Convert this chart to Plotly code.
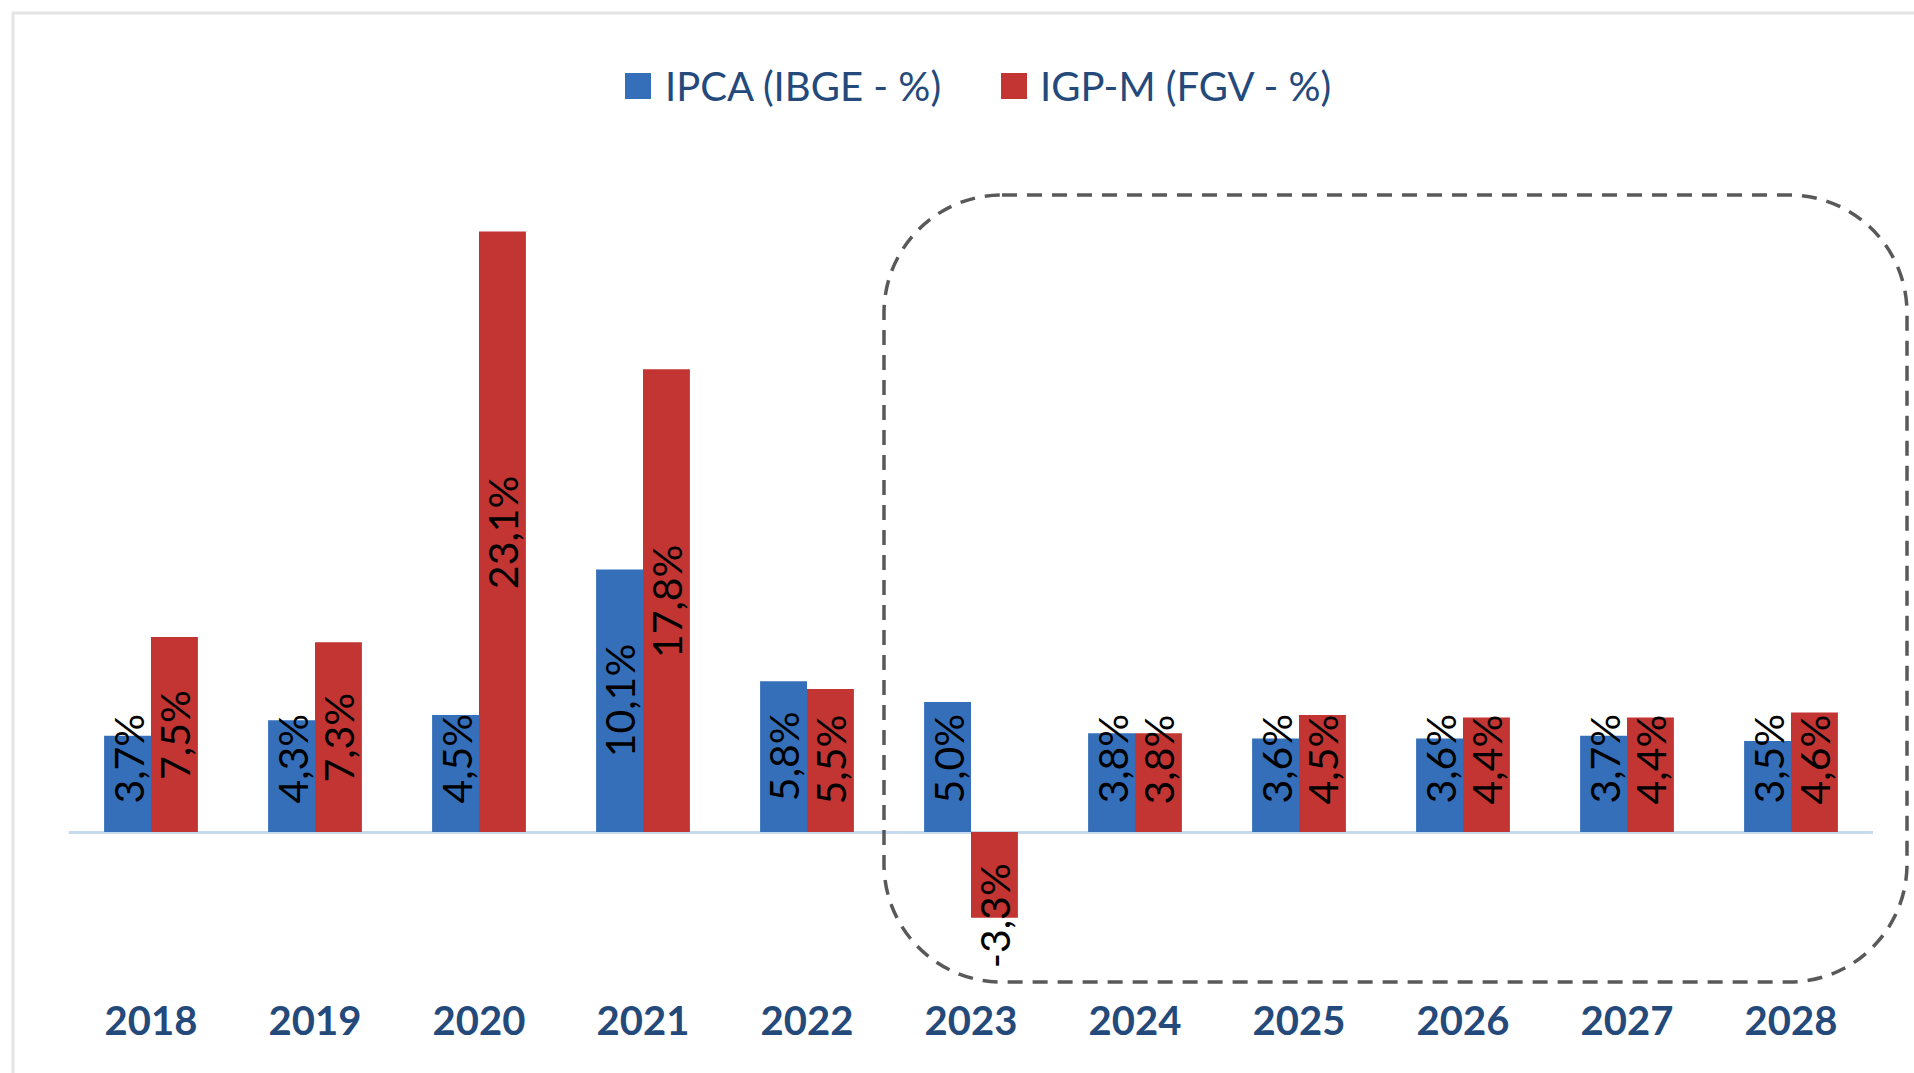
import plotly.graph_objects as go

years = ["2018", "2019", "2020", "2021", "2022", "2023", "2024", "2025", "2026", "2027", "2028"]
ipca = [3.7, 4.3, 4.5, 10.1, 5.8, 5.0, 3.8, 3.6, 3.6, 3.7, 3.5]
igpm = [7.5, 7.3, 23.1, 17.8, 5.5, -3.3, 3.8, 4.5, 4.4, 4.4, 4.6]
names = ["IPCA (IBGE - %)", "IGP-M (FGV - %)"]

BLUE = "#356FB9"
RED = "#C23533"
TXT = "#24497B"

W_PX, H_PX = 1914, 1073
L, R, T, B = 69, 1873, 156, 962
PW, PH = R - L, B - T
YLO, YHI = -5.0, 26.0
PX_PER_UNIT = PH / (YHI - YLO)


def px2x(px):
    return (px - L) / PW


def py2y(py):
    return (B - py) / PH


def fmt(v):
    return ("%.1f" % v).replace(".", ",") + "%"


fig = go.Figure()
fig.add_trace(go.Bar(x=years, y=ipca, name=names[0], marker=dict(color=BLUE, line=dict(width=0))))
fig.add_trace(go.Bar(x=years, y=igpm, name=names[1], marker=dict(color=RED, line=dict(width=0))))

annotations = []
half = (1 - 0.428) / 4  # half bar width in category units
for series, off in ((ipca, -half), (igpm, half)):
    for i, v in enumerate(series):
        t = fmt(v)
        thr = (30 + 21.5 * len(t) / 2) / PX_PER_UNIT
        c = max(abs(v) / 2, thr) * (1 if v >= 0 else -1)
        annotations.append(dict(
            x=i + off, y=c, xref="x", yref="y", text=t, showarrow=False,
            textangle=-90, xanchor="center", yanchor="middle",
            font=dict(family="Lato", size=41, color="#000000"),
        ))

# manual legend
leg = [(625, BLUE, 663, names[0]), (1001, RED, 1038, names[1])]
shapes = []
for sx, col, tx, nm in leg:
    shapes.append(dict(type="rect", xref="paper", yref="paper",
                       x0=px2x(sx), x1=px2x(sx + 26), y0=py2y(99), y1=py2y(73),
                       fillcolor=col, line=dict(width=0)))
    annotations.append(dict(x=px2x(tx), y=py2y(86), xref="paper", yref="paper",
                            text=nm, showarrow=False, xanchor="left", yanchor="middle",
                            font=dict(family="Lato", size=40, color=TXT)))

# outer light frame
shapes.append(dict(type="rect", xref="paper", yref="paper",
                   x0=px2x(13), x1=px2x(1930), y0=py2y(1090), y1=py2y(13),
                   line=dict(color="#E4E4E4", width=3), fillcolor="rgba(0,0,0,0)", layer="below"))

# dashed rounded rectangle around forecast years
x0, x1, y0, y1, r = 884, 1907, 195, 982, 118
k = 0.5523 * r


def P(px, py):
    return "%.5f,%.5f" % (px2x(px), py2y(py))


path = ("M" + P(x0 + r, y0) + " L" + P(x1 - r, y0) +
        " C" + P(x1 - r + k, y0) + " " + P(x1, y0 + r - k) + " " + P(x1, y0 + r) +
        " L" + P(x1, y1 - r) +
        " C" + P(x1, y1 - r + k) + " " + P(x1 - r + k, y1) + " " + P(x1 - r, y1) +
        " L" + P(x0 + r, y1) +
        " C" + P(x0 + r - k, y1) + " " + P(x0, y1 - r + k) + " " + P(x0, y1 - r) +
        " L" + P(x0, y0 + r) +
        " C" + P(x0, y0 + r - k) + " " + P(x0 + r - k, y0) + " " + P(x0 + r, y0) + " Z")
shapes.append(dict(type="path", xref="paper", yref="paper", path=path,
                   line=dict(color="#595959", width=3.5, dash="15px,10px"),
                   fillcolor="rgba(0,0,0,0)"))

fig.update_layout(
    width=W_PX, height=H_PX,
    margin=dict(l=L, r=W_PX - R, t=T, b=H_PX - B, pad=0),
    paper_bgcolor="white", plot_bgcolor="white",
    barmode="group", bargap=0.428, bargroupgap=0,
    showlegend=False,
    annotations=annotations, shapes=shapes,
    xaxis=dict(type="category", range=[-0.5, 10.5], showgrid=False, showline=False,
               zeroline=False, ticks="", ticklabelstandoff=32,
               tickfont=dict(family="Lato", size=40, color=TXT, weight="bold")),
    yaxis=dict(range=[YLO, YHI], showgrid=False, showline=False, showticklabels=False,
               ticks="", zeroline=True, zerolinecolor="#C6D9F0", zerolinewidth=3),
)

fig.write_html("out.html", config={"displayModeBar": False},
               post_script="document.body.style.margin='0px';document.body.style.overflow='hidden';")
